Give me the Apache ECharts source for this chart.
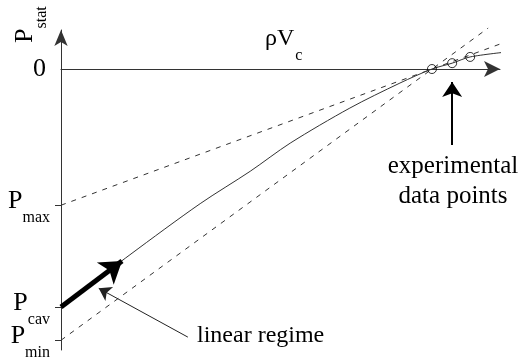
<!DOCTYPE html>
<html><head><meta charset="utf-8">
<script src="https://cdn.jsdelivr.net/npm/echarts@6/dist/echarts.min.js"></script>
<style>html,body{margin:0;padding:0;background:#fff}#c{width:522px;height:362px}</style>
</head><body><div id="c"></div>
<script>
// Pressure curve P_stat vs rhoV_c (arbitrary units, schematic)
const curveX = [0, 1.57, 3.17, 4.31, 5.22, 6.58, 7.72, 8.45, 8.91, 9.32, 10.18];
const curveY = [-6.10, -4.76, -3.45, -2.62, -1.90, -1.00, -0.36, 0, 0.15, 0.31, 0.44];
// experimental data points
const pointsX = [8.45, 8.91, 9.32];
const pointsY = [0, 0.15, 0.31];
// dashed tangent lines
const tangentMaxX = [0, 10];
const tangentMaxY = [-3.49, 0.64];
const tangentMinX = [0, 9.73];
const tangentMinY = [-6.95, 1.05];
// y tick values & labels
const tickValues = [-6.95, 0, -3.49, -6.10];
const tickLabels = ['P_min', '0', 'P_max', 'P_cav'];
// annotation arrows [start, end]
const thickArrow = [[0, -6.10], [1.39, -4.92]];
const thinArrow = [[2.89, -6.87], [0.86, -5.62]];
const expArrow = [[8.91, -1.95], [8.91, -0.33]];

const serif = 'Liberation Serif, Times New Roman, serif';
const zip = (a, b) => a.map((v, i) => [v, b[i]]);
const lineCol = '#333';
const axisRich = {
  z: {fontSize: 26, fontFamily: serif, color: '#000', padding: [0, 4, 0, 0]},
  p: {fontSize: 26, fontFamily: serif, color: '#000', lineHeight: 8, padding: [0, 0, 8, 0]},
  s: {fontSize: 16, fontFamily: serif, color: '#000', lineHeight: 6, padding: [26, 0, 0, 0]}
};
const richStyles = {
  p: {fontSize: 26, fontFamily: serif, color: '#000', lineHeight: 26, padding: [0, 0, 8, 0]},
  s: {fontSize: 16, fontFamily: serif, color: '#000', lineHeight: 16, padding: [26, 0, 0, 0]}
};
function fmtLabel(t) {
  if (t.indexOf('_') < 0) return '{z|' + t + '}';
  const parts = t.split('_');
  return '{p|' + parts[0] + '}{s|' + parts[1] + '}';
}

const chart = echarts.init(document.getElementById('c'));
chart.setOption({
  animation: false,
  backgroundColor: '#fff',
  grid: {left: 61, right: 22, top: 30, bottom: 12, containLabel: false, outerBoundsMode: 'none'},
  xAxis: {
    type: 'value', min: 0, max: 10,
    axisLine: {onZero: true, symbol: ['none', 'arrow'], symbolSize: [12, 16], lineStyle: {color: lineCol, width: 1}},
    axisTick: {show: false}, axisLabel: {show: false}, splitLine: {show: false}
  },
  yAxis: {
    type: 'value', min: -7.2, max: 1,
    axisLine: {show: true, symbol: ['none', 'arrow'], symbolSize: [10, 16], lineStyle: {color: lineCol, width: 1}},
    axisTick: {show: true, customValues: tickValues.filter(v => v !== 0), length: 6, lineStyle: {color: lineCol}},
    axisLabel: {
      show: true, customValues: tickValues, margin: 11,
      hideOverlap: false, showMinLabel: true, showMaxLabel: true,
      formatter: function (v) {
        let i = tickValues.findIndex(t => Math.abs(t - v) < 1e-6);
        return i < 0 ? '' : fmtLabel(tickLabels[i]);
      },
      rich: axisRich
    },
    splitLine: {show: false}
  },
  graphic: [
    {type: 'text', x: 29, y: 43, rotation: Math.PI / 2,
     style: {text: '{p|P}{s|stat}', rich: richStyles, align: 'left', verticalAlign: 'middle', textAlign: 'left', textVerticalAlign: 'middle'}},
    {type: 'text', x: 265, y: 43,
     style: {text: '{p|ρV}{s|c}', rich: {
       p: {fontSize: 24, fontFamily: serif, color: '#000', lineHeight: 24, padding: [0, 0, 8, 0]},
       s: {fontSize: 16, fontFamily: serif, color: '#000', lineHeight: 16, padding: [26, 0, 0, 1]}
     }, align: 'left', verticalAlign: 'middle', textAlign: 'left', textVerticalAlign: 'middle'}},
    {type: 'text', x: 453, y: 181,
     style: {text: 'experimental\ndata points', font: '25px ' + serif, fill: '#000', lineHeight: 30,
       align: 'center', verticalAlign: 'middle', textAlign: 'center', textVerticalAlign: 'middle'}},
    {type: 'text', x: 197, y: 336,
     style: {text: 'linear regime', font: '24px ' + serif, fill: '#000',
       align: 'left', verticalAlign: 'middle', textAlign: 'left', textVerticalAlign: 'middle'}}
  ],
  series: [
    {
      type: 'line', data: zip(curveX, curveY), smooth: 0.3, symbol: 'none', clip: false,
      lineStyle: {color: lineCol, width: 1}, silent: true,
      markLine: {
        silent: true, animation: false, label: {show: false},
        data: [
          [{coord: thickArrow[0], symbol: 'none', lineStyle: {color: '#000', width: 5, type: 'solid'}},
           {coord: thickArrow[1], symbol: 'arrow', symbolSize: 21}],
          [{coord: thinArrow[0], symbol: 'none', lineStyle: {color: '#222', width: 1, type: 'solid'}},
           {coord: thinArrow[1], symbol: 'arrow', symbolSize: 12}],
          [{coord: expArrow[0], symbol: 'none', lineStyle: {color: '#000', width: 2, type: 'solid'}},
           {coord: expArrow[1], symbol: 'arrow', symbolSize: 15}]
        ]
      }
    },
    {
      type: 'line', data: zip(tangentMaxX, tangentMaxY), symbol: 'none', clip: false, silent: true,
      lineStyle: {color: lineCol, width: 1, type: [5, 6]}
    },
    {
      type: 'line', data: zip(tangentMinX, tangentMinY), symbol: 'none', clip: false, silent: true,
      lineStyle: {color: lineCol, width: 1, type: [5, 6]}
    },
    {
      type: 'scatter', data: zip(pointsX, pointsY), symbol: 'circle', symbolSize: 9, clip: false, silent: true, z: 5,
      itemStyle: {color: 'rgba(255,255,255,0)', borderColor: '#000', borderWidth: 1}
    }
  ]
});
</script></body></html>
